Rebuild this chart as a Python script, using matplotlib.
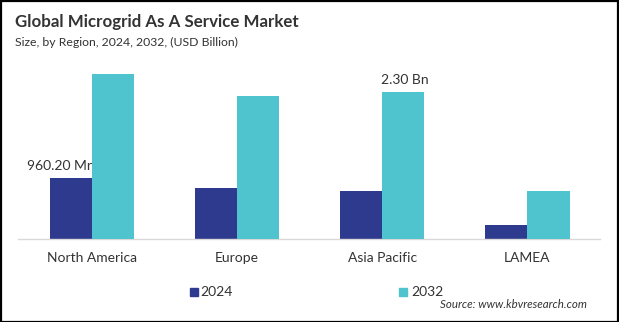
import matplotlib
matplotlib.use("Agg")
import matplotlib.pyplot as plt
import numpy as np
from matplotlib.patches import Rectangle

regions = ["North America", "Europe", "Asia Pacific", "LAMEA"]
years = ["2024", "2032"]
values_2024 = [0.9602, 0.80, 0.75, 0.224]
values_2032 = [2.58, 2.235, 2.30, 0.75]
label_na_2024 = "960.20 Mn"
label_ap_2032 = "2.30 Bn"

C24 = "#2E3A8E"
C32 = "#4FC3CE"
TXT = "#333333"
FONT = "Lato"

W, H = 619, 322
fig = plt.figure(figsize=(W / 100, H / 100), dpi=100)
fig.patch.set_facecolor("white")

def fx(px):
    return px / W

def fy(py):
    return 1 - py / H

ax = fig.add_axes([fx(18), fy(239), fx(600) - fx(18), fy(60) - fy(239)])
x = np.arange(len(regions))
bw = 0.29
b1 = ax.bar(x - bw / 2, values_2024, bw, color=C24, zorder=2)
b2 = ax.bar(x + bw / 2, values_2032, bw, color=C32, zorder=3)
ax.set_xlim(-0.51, 3.5)
ax.set_ylim(0, 179 / 64)
for s in ["top", "right", "left"]:
    ax.spines[s].set_visible(False)
ax.spines["bottom"].set_color("#D9D9D9")
ax.spines["bottom"].set_linewidth(1.0)
ax.set_yticks([])
ax.set_xticks(x)
ax.set_xticklabels(regions, fontsize=10, color=TXT, family=FONT)
ax.tick_params(axis="x", length=0, pad=9)

ax.annotate(label_na_2024, (x[0] - bw / 2, values_2024[0]), xytext=(-7, 4),
            textcoords="offset points", ha="center", va="bottom",
            fontsize=10, color=TXT, family=FONT, zorder=2.5)
ax.annotate(label_ap_2032, (x[2] + bw / 2, values_2032[2]), xytext=(1, 4),
            textcoords="offset points", ha="center", va="bottom",
            fontsize=10, color=TXT, family=FONT, zorder=4)

fig.text(fx(15), fy(22), "Global Microgrid As A Service Market", fontsize=12.2,
         fontweight="bold", color=TXT, family=FONT, va="center", ha="left")
fig.text(fx(15), fy(42), "Size, by Region, 2024, 2032, (USD Billion)", fontsize=8.8,
         color=TXT, family=FONT, va="center", ha="left")

# legend
for sq_x, txt_x, col, lab in [(190, 200, C24, years[0]), (399, 411, C32, years[1])]:
    fig.patches.append(Rectangle((fx(sq_x), fy(296)), fx(8), 8 / H, color=col,
                                 transform=fig.transFigure, figure=fig))
    fig.text(fx(txt_x), fy(292), lab, fontsize=10, color=TXT, family=FONT,
             va="center", ha="left")

fig.text(fx(587), fy(305), "Source: www.kbvresearch.com", fontsize=8.3,
         style="italic", color=TXT, family=FONT, va="center", ha="right")

fig.patches.append(Rectangle((0.5 / W, 0.5 / H), 1 - 1.5 / W, 1 - 1.5 / H,
                             fill=False, edgecolor="black", linewidth=1.6,
                             transform=fig.transFigure, figure=fig))

fig.savefig("out.png", dpi=100, facecolor="white")
